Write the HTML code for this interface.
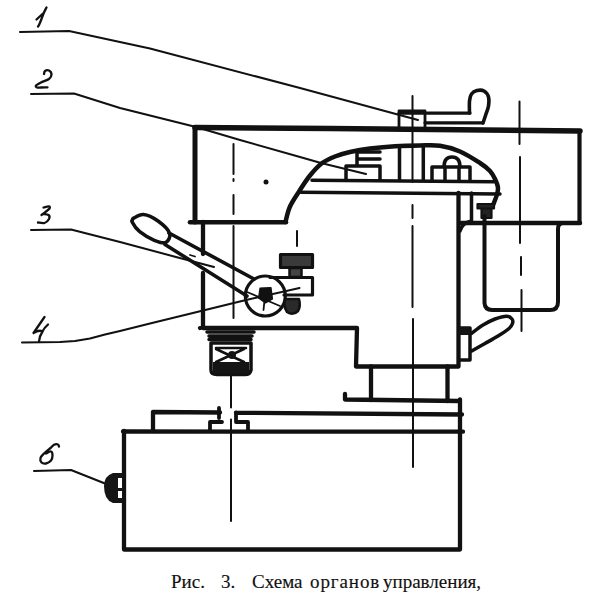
<!DOCTYPE html>
<html><head><meta charset="utf-8">
<style>
html,body{margin:0;padding:0;background:#fff;width:600px;height:600px;overflow:hidden}
svg{position:absolute;left:0;top:0}
.cap{position:absolute;top:572px;font-family:"Liberation Serif",serif;font-size:19px;line-height:19px;color:#111;white-space:pre;-webkit-text-stroke:0.15px #111}
</style></head><body>
<svg width="600" height="600" viewBox="0 0 600 600">
<g fill="none" stroke="#111" stroke-linecap="round" stroke-linejoin="round">
<!-- leader lines -->
<g stroke-width="2">
<polyline points="20,32 69,31 150,48.5 300,88 418,120"/>
<polyline points="31,94 74,93.5 120,108 150,115.5 196,127 240,140 300,157 321,163 366,174"/>
<polyline points="31,230 71,229.5 120,242 176,257 214,267"/>
<polyline points="22,342.5 60,342 75,341 90,338.5 105,334.5 120,331 150,323.5 246,300 299.5,288"/>
<polyline points="34,471 71,470 105,483.5"/>
</g>
<!-- labels -->
<g stroke-width="2.3">
<path d="M46.5,7.5 C46.1,8.3 44.8,10.6 44.0,12.5 C43.2,14.4 42.3,16.9 41.5,19.0 C40.7,21.1 39.6,23.8 39.0,25.0 C38.4,26.2 38.2,26.2 38.0,26.5 M36.5,19.5 L43,13.5"/>
<path d="M44.0,74.0 C44.2,73.5 44.2,71.6 45.0,71.0 C45.8,70.4 47.9,69.9 49.0,70.5 C50.1,71.1 51.5,73.1 51.5,74.5 C51.5,75.9 50.8,77.7 49.0,79.0 C47.2,80.3 43.2,81.4 41.0,82.5 C38.8,83.6 36.7,84.7 36.0,85.5 C35.3,86.3 36.2,87.2 37.0,87.5 C37.8,87.8 39.2,87.5 41.0,87.5 C42.8,87.5 46.4,87.3 47.5,87.3"/>
<path d="M43.5,207.5 C44.4,207.3 48.0,206.3 49.0,206.5 C50.0,206.7 50.1,207.6 49.5,208.5 C48.9,209.4 46.8,210.9 45.5,212.0 C44.2,213.1 42.2,214.5 41.5,215.0 M43.0,214.0 C43.9,214.2 47.5,214.2 48.5,215.0 C49.5,215.8 49.7,217.7 49.0,219.0 C48.3,220.3 46.3,222.4 44.5,223.0 C42.7,223.6 39.1,222.6 38.0,222.5"/>
<path d="M44.5,317 L33.5,333 Q38,330 42,331 M48,324.5 Q44,328 42.5,331.5 Q39.5,336 39,341.5"/>
<path d="M59.0,446.5 C58.8,446.2 58.8,444.8 58.0,444.5 C57.2,444.2 55.2,444.2 54.0,444.8 C52.8,445.4 52.2,446.6 50.5,448.0 C48.8,449.4 45.7,451.8 44.0,453.5 C42.3,455.2 40.9,456.5 40.5,458.0 C40.1,459.5 40.6,461.6 41.5,462.5 C42.4,463.4 44.4,463.8 46.0,463.5 C47.6,463.2 49.9,461.8 51.0,460.5 C52.1,459.2 52.5,457.0 52.5,455.5 C52.5,454.0 52.1,451.8 51.0,451.5 C49.9,451.2 46.8,453.2 46.0,453.5"/>
</g>
<!-- centerlines -->
<g stroke-width="2">
<path d="M233.5,144 V174 M233.5,179 V181 M233.5,195 V214 M233.5,226 V318"/>
<path d="M412.5,96 V182 M412.5,205 V218 M412.5,226 V307 M413,319 V467"/>
<path d="M519.5,101.5 V144 M520,157 V243 M521,257 V275 M521.5,290 V331"/>
<path d="M231,373 V407.5 M231,419.5 V521"/>
<path d="M297,231 V246"/>
</g>
<!-- head box -->
<g stroke-width="4.5">
<polyline points="195,127.5 330,128.5 580,131" stroke-width="5.5"/><line x1="579.5" y1="131" x2="579.5" y2="222.5" stroke-width="4.2"/>
<line x1="461" y1="223" x2="580" y2="223"/>
<polyline points="195,127.5 195,222" stroke-width="5"/><line x1="190" y1="222.3" x2="286" y2="222.3" stroke-width="4.6"/>
<path d="M285.5,222.0 C286.2,219.4 287.6,211.8 290.0,206.5 C292.4,201.2 296.7,195.2 300.0,190.0 C303.3,184.8 306.4,179.9 310.0,175.5 C313.6,171.1 317.3,166.7 321.5,163.5 C325.7,160.3 330.2,158.4 335.0,156.5 C339.8,154.6 344.2,153.3 350.0,152.0 C355.8,150.7 362.5,149.5 370.0,148.6 C377.5,147.7 386.7,146.8 395.0,146.3 C403.3,145.8 412.5,145.6 420.0,145.5 C427.5,145.4 433.3,144.8 440.0,145.8 C446.7,146.8 453.3,148.6 460.0,151.5 C466.7,154.4 475.0,159.8 480.0,163.0 C485.0,166.2 487.5,168.3 490.0,171.0 C492.5,173.7 493.7,176.2 495.0,179.0 C496.3,181.8 497.8,185.2 498.0,188.0 C498.2,190.8 497.3,193.2 496.5,196.0 C495.7,198.8 493.6,203.5 493.0,205.0"/>
</g>
<g stroke-width="3.5">
<line x1="312" y1="180.3" x2="494" y2="181.8"/>
<line x1="301" y1="192.3" x2="500" y2="194"/>
<!-- dome interior -->
<path d="M399.5,147 V180 M423.3,147 V180"/>
<path d="M346,180 V166 H380 V180 M357,166 V152 H380 M357,159 H380"/>
<path d="M432,181 V167 H470 V181 M445,167 V181 M459,167 V181 M444,167 Q444,157 452,157 Q460,157 460,167"/>
<!-- lever 1 -->
<path d="M399,128 V111 H425 V128" stroke-width="2.8"/>
<path d="M399,113.2 H470 M425,122.8 H483" stroke-width="3.2"/>
<path d="M469.5,113.0 C469.5,111.0 469.2,104.2 469.5,101.0 C469.8,97.8 470.2,95.8 471.5,94.0 C472.8,92.2 474.9,91.0 477.0,90.5 C479.1,90.0 482.1,89.9 484.0,91.0 C485.9,92.1 487.8,94.5 488.5,97.0 C489.2,99.5 488.9,103.2 488.5,106.0 C488.1,108.8 486.9,111.2 486.0,114.0 C485.1,116.8 483.5,121.5 483.0,123.0" stroke-width="3.6"/>
</g>
<!-- dot -->
<circle cx="266" cy="182" r="2.5" fill="#111" stroke="none"/>
<!-- column -->
<g stroke-width="4.3">
<path d="M203,222 V254 M203,273 V327.5 L200,328 M203,328 H357 L356,366.5 H458.5 V193"/>
<path d="M471.5,193 V221 Q462,223 460,231" stroke-width="3.5"/>
<path d="M477.5,204 H494 V208.5 H477.5 Z M481.5,208.5 H491.5 V218 H481.5 Z" fill="#222" stroke-width="2.2"/>
<!-- motor housing -->
<path d="M484.5,216 V303 Q485,310 492,310 H550 Q558,310 558,302 V229 Q558,224 562,223" stroke-width="4"/>
<!-- neck and base plate -->
<path d="M371,366.5 V400 M447.5,366.5 V401"/>
<path d="M345,394 V399.5 L459.5,401"/>
<!-- table -->
<path d="M153,431 V412 L220,412.5 M236,412.8 L462,414.5"/>
<path d="M219,408 V418 M210,431 V422 H222 M236,412.5 V422 H248 V431" stroke-width="3.8"/>
<line x1="123" y1="431.5" x2="463" y2="431.7"/>
<!-- base box -->
<path d="M124,431 V549.5 H460 V399.5"/>
</g>
<!-- right lever -->
<g stroke-width="3.5">
<path d="M459,328 H470 V360 H459"/>
<rect x="459" y="327" width="11" height="8" fill="#151515" stroke="none"/>
<path d="M471.7,333.3 C473.6,331.9 479.1,327.4 483.0,325.0 C486.9,322.6 491.1,320.5 495.0,319.0 C498.9,317.5 503.9,316.2 506.7,316.2 C509.5,316.2 511.0,317.8 512.0,319.0 C513.0,320.2 513.0,321.9 512.5,323.5 C512.0,325.1 511.4,326.4 509.0,328.5 C506.6,330.6 502.0,333.5 498.0,336.0 C494.0,338.5 489.4,341.0 485.0,343.5 C480.6,346.0 473.9,349.8 471.7,351.0"/>
</g>
<!-- knob 6 -->
<path d="M123,473 H113 Q104,476 104,486 Q104,500 113,503 H123 Z" fill="#151515" stroke="none"/>
<path d="M118,478 H122 V488 H118 Z M118,491 H122 V498 H118 Z" fill="#fff" stroke="none"/>
<!-- chuck -->
<g stroke-width="3.5">
<path d="M207,332 H254 M209,336 H252 M209,339.5 H251"/>
<path d="M211,343 H251 V370 Q250,374.5 245,374.5 H217 Q211,374.5 211,370 Z"/>
<rect x="213" y="362" width="36" height="11" fill="#151515" stroke="none"/>
<path d="M216,349 L244,362 M244,349 L216,362 M216,348 H246" stroke-width="2.5"/>
<circle cx="232" cy="355" r="4" fill="#151515" stroke="none"/>
</g>
<!-- lever 3 -->
<g stroke-width="3.6">
<path d="M169,233 L254,279 M165,244.5 L247,296"/>
<path d="M133.0,218.5 C134.8,217.8 139.3,214.1 143.5,214.5 C147.7,214.9 153.7,217.9 158.0,221.0 C162.3,224.1 168.2,229.4 169.5,233.0 C170.8,236.6 168.5,241.1 166.0,242.3 C163.5,243.5 158.7,242.1 154.3,240.3 C149.9,238.5 143.4,234.7 139.7,231.7 C136.0,228.7 133.4,224.5 132.3,222.3 C131.2,220.1 132.9,219.1 133.0,218.5"/>
<path d="M190,255 L195,256.5" stroke-width="1.8"/>
</g>
<!-- hub -->
<g stroke-width="3.2">
<circle cx="265.3" cy="296" r="20"/>
<path d="M270,277.5 H312.5 V295 H284"/>
<rect x="280.5" y="254.5" width="32" height="13" fill="#3a3a3a"/>
<path d="M289.5,268 H301.5 V277 H289.5 Z" fill="#444" stroke-width="2.5"/>
<path d="M285,299 L299,299 Q301,306 298,311 Q293,316 287,312 Q283,306 285,299 Z" fill="#2a2a2a" stroke-width="2.5"/>
<path d="M260,288 L271,287.5 L272.5,299 L265.5,303 L258.5,298 Z" fill="#111" stroke-width="1.2"/>
<path d="M247,292 L280,306 M265,296 L263.5,310" stroke-width="1.8"/>
</g>
</g>
</svg>
<div class="cap" style="left:171px">Рис.</div><div class="cap" style="left:221px">3.</div><div class="cap" style="left:252px">Схема</div><div class="cap" style="left:310px;letter-spacing:0.9px">органов</div><div class="cap" style="left:383px">управления,</div>
</body></html>
